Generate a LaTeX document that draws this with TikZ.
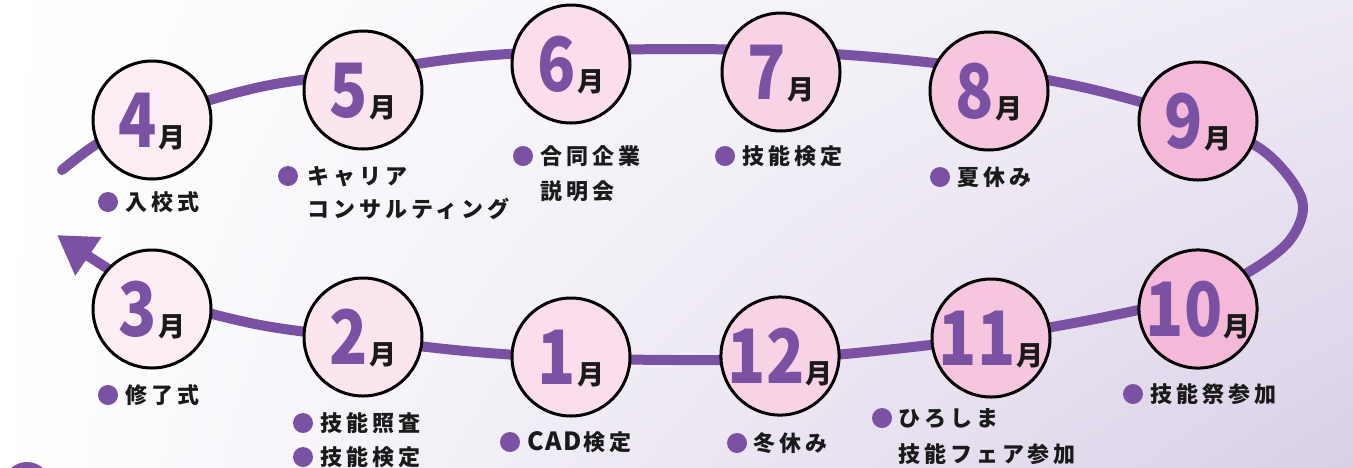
\documentclass[tikz,border=0pt]{standalone}
\usepackage{fontspec}
\usepackage{graphicx}
\usetikzlibrary{arrows.meta,shadings}
\newfontfamily\jpfont{Noto Sans CJK JP}
\newfontfamily\jplabel{Noto Sans CJK JP}[LetterSpace=18]
\newfontfamily\jplat{Noto Sans CJK JP}[LetterSpace=6]
\definecolor{vio}{HTML}{7B52A3}
\definecolor{ink}{HTML}{1A1A1A}
\definecolor{cA}{HTML}{FDEEF5}
\definecolor{cB}{HTML}{FBE6F0}
\definecolor{cC}{HTML}{FADEEB}
\definecolor{cD}{HTML}{F8D2E5}
\definecolor{cE}{HTML}{F6C5DE}
\definecolor{cF}{HTML}{F4B8D8}
\definecolor{bgUR}{HTML}{EEEAF4}
\definecolor{bgLR}{HTML}{DAD0E7}
\newcommand\mon[1]{{\jpfont\bfseries\color{vio}\scalebox{0.84}[1]{\fontsize{75}{75}\selectfont #1}}\hspace{1pt}{\jpfont\bfseries\fontsize{27}{27}\selectfont\color{ink}月}}
\tikzset{
  month/.style={circle, draw=black, line width=3pt, minimum size=118pt, inner sep=0pt, text depth=0pt},
  dot/.style={circle, fill=vio, minimum size=20pt, inner sep=0pt},
  lbl/.style={anchor=west, inner sep=0pt, text=ink, text height=18pt, text depth=2pt, font=\jplabel\bfseries\fontsize{22}{22}\selectfont},
  route/.style={draw=vio, line width=10pt, line cap=round}
}
\begin{document}
\begin{tikzpicture}[x=1pt,y=-1pt]
\useasboundingbox (0,0) rectangle (1353,467);
\clip (0,0) rectangle (1353,467);
\shade[upper left=white, lower left=white, upper right=bgUR, lower right=bgLR] (0,0) rectangle (1353,467);
\node[circle, fill=vio, minimum size=48pt, inner sep=0pt] (deco) at (27,486) {};
\coordinate (s) at (62,170);
\coordinate (e) at (57,235);
\draw[route, -{Triangle[length=38pt,width=44pt]}] plot[smooth, tension=0.55] coordinates {
 (s) (100,142) (152,118) (260,87) (363,72) (470,57) (571,51) (680,49) (781,51)
 (885,58) (989,70) (1095,90) (1198,120) (1265,152) (1302,200) (1290,240)
 (1247,273) (1195,296) (1100,318) (991,337) (885,350) (780,359) (675,360)
 (571,358) (465,351) (363,339) (255,324) (160,298) (107,268) (e)};
% months
\node[month, fill=cA] (m4) at (152,120) {\mon{4}};
\node[month, fill=cB] (m5) at (363,90) {\mon{5}};
\node[month, fill=cC] (m6) at (571,64) {\mon{6}};
\node[month, fill=cD] (m7) at (781,72) {\mon{7}};
\node[month, fill=cE] (m8) at (989,91) {\mon{8}};
\node[month, fill=cF] (m9) at (1198,121) {\mon{9}};
\node[month, fill=cF] (m10) at (1198,309) {\mon{10}};
\node[month, fill=cE] (m11) at (991,338) {\mon{11}};
\node[month, fill=cD] (m12) at (780,356) {\mon{12}};
\node[month, fill=cC] (m1) at (571,357) {\mon{1}};
\node[month, fill=cB] (m2) at (363,337) {\mon{2}};
\node[month, fill=cA] (m3) at (152,309) {\mon{3}};
% labels
\node[dot] (d4) at (108,202) {};
\node[lbl] (l4) at (125,202) {入校式};
\node[dot] (d5) at (288,176) {};
\node[lbl] (l5a) at (307,176) {キャリア};
\node[lbl] (l5b) at (307,209) {コンサルティング};
\node[dot] (d6) at (523,156) {};
\node[lbl] (l6a) at (540,156) {合同企業};
\node[lbl] (l6b) at (540,191) {説明会};
\node[dot] (d7) at (725,156) {};
\node[lbl] (l7) at (742,156) {技能検定};
\node[dot] (d8) at (940,177) {};
\node[lbl] (l8) at (957,177) {夏休み};
\node[dot] (d10) at (1133,394) {};
\node[lbl] (l10) at (1150,394) {技能祭参加};
\node[dot] (d11) at (882,418) {};
\node[lbl] (l11a) at (898,418) {ひろしま};
\node[lbl] (l11b) at (898,454) {技能フェア参加};
\node[dot] (d12) at (737,443) {};
\node[lbl] (l12) at (753,443) {冬休み};
\node[dot] (d1) at (510,442) {};
\node[lbl] (l1) at (527,442) {{\jplat\bfseries\fontsize{25}{25}\selectfont CAD}\hspace{2pt}検定};
\node[dot] (d2a) at (303,423) {};
\node[lbl] (l2a) at (320,423) {技能照査};
\node[dot] (d2b) at (303,457) {};
\node[lbl] (l2b) at (320,457) {技能検定};
\node[dot] (d3) at (108,395) {};
\node[lbl] (l3) at (125,395) {修了式};
\end{tikzpicture}
\end{document}
